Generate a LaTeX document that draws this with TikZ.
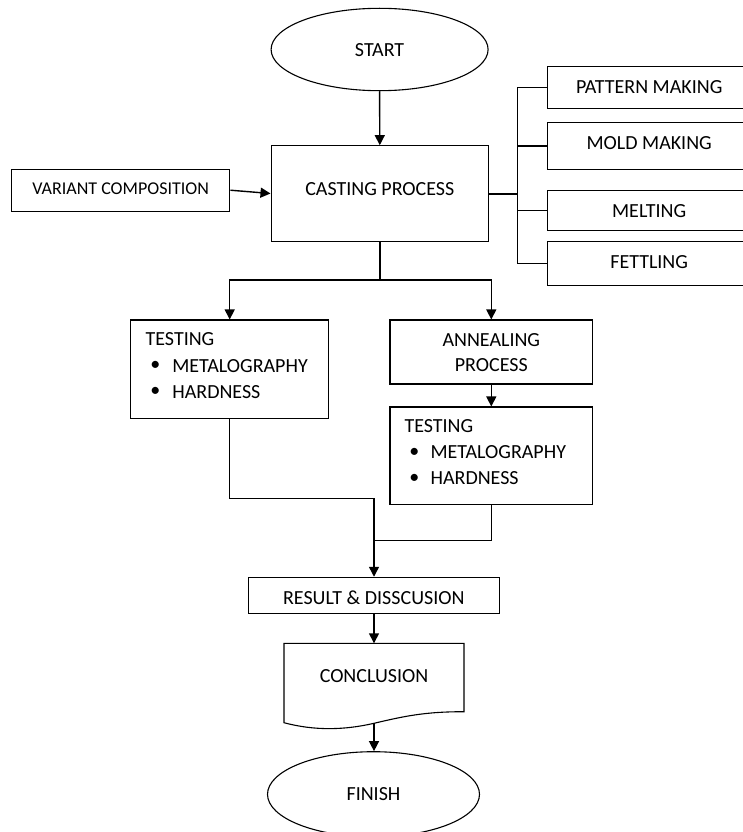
\documentclass[tikz,border=0pt]{standalone}
\usepackage{fontspec}
\setmainfont{Carlito}
\usetikzlibrary{shapes.geometric,arrows.meta}
\begin{document}
\begin{tikzpicture}[x=1pt,y=-1pt,
  box/.style={draw, line width=1.1pt, inner sep=0pt, rectangle},
  oval/.style={draw, line width=1.1pt, inner sep=0pt, ellipse},
  txt/.style={inner sep=0pt, font=\fontsize{20}{25}\selectfont},
  smalltxt/.style={inner sep=0pt, font=\fontsize{18}{22}\selectfont},
  conn/.style={line width=1.4pt},
  arr/.style={line width=1.4pt, -{Triangle[length=10pt,width=10pt]}}]
\clip (0,0) rectangle (743,832);
% nodes
\node[oval, minimum width=217pt, minimum height=82.4pt] (start) at (379.6,49.5) {};
\node[txt] (starttext) at (379.6,50) {START};
\node[box, minimum width=217.5pt, minimum height=95.6pt] (casting) at (379.8,193.5) {};
\node[txt] (castingtext) at (379.8,189) {CASTING PROCESS};
\node[box, minimum width=218pt, minimum height=41.7pt] (variant) at (120.8,190.2) {};
\node[smalltxt] (varianttext) at (120.6,189) {VARIANT COMPOSITION};
\node[box, minimum width=203.7pt, minimum height=41.6pt] (pattern) at (649.2,87.5) {};
\node[txt] (patterntext) at (649.2,87) {PATTERN MAKING};
\node[box, minimum width=203.7pt, minimum height=47pt] (mold) at (649.2,145.8) {};
\node[txt] (moldtext) at (649.2,143) {MOLD MAKING};
\node[box, minimum width=203.7pt, minimum height=40pt] (melting) at (649.2,210.7) {};
\node[txt] (meltingtext) at (649.2,211) {MELTING};
\node[box, minimum width=203.7pt, minimum height=43.6pt] (fettling) at (649.2,263.5) {};
\node[txt] (fettlingtext) at (649.2,262) {FETTLING};
% testing 1
\node[box, minimum width=198pt, minimum height=98.7pt] (testa) at (229.7,369.35) {};
\node[txt, anchor=west] (testatitle) at ([xshift=15.3pt,yshift=-19.5pt]testa.north west) {TESTING};
\node[txt] (testabulla) at ([xshift=25.3pt,yshift=-46.7pt]testa.north west) {\textbullet};
\node[txt, anchor=west] (testaitema) at ([xshift=42pt,yshift=-46.7pt]testa.north west) {METALOGRAPHY};
\node[txt] (testabullb) at ([xshift=25.3pt,yshift=-72.8pt]testa.north west) {\textbullet};
\node[txt, anchor=west] (testaitemb) at ([xshift=42pt,yshift=-72.8pt]testa.north west) {HARDNESS};
% annealing
\node[box, minimum width=202.7pt, minimum height=64pt] (anneal) at (491.3,352) {};
\node[txt, align=center] (annealtext) at (491.3,352.5) {ANNEALING\\PROCESS};
% testing 2
\node[box, minimum width=202.7pt, minimum height=97.3pt] (testb) at (491.3,455.65) {};
\node[txt, anchor=west] (testbtitle) at ([xshift=15pt,yshift=-20pt]testb.north west) {TESTING};
\node[txt] (testbbulla) at ([xshift=25pt,yshift=-46pt]testb.north west) {\textbullet};
\node[txt, anchor=west] (testbitema) at ([xshift=41pt,yshift=-46pt]testb.north west) {METALOGRAPHY};
\node[txt] (testbbullb) at ([xshift=25pt,yshift=-72pt]testb.north west) {\textbullet};
\node[txt, anchor=west] (testbitemb) at ([xshift=41pt,yshift=-72pt]testb.north west) {HARDNESS};
% result
\node[box, minimum width=251pt, minimum height=36pt] (result) at (373.8,595.3) {};
\node[txt] (resulttext) at (373.8,597.7) {RESULT \& DISSCUSION};
% conclusion (document shape)
\draw[line width=1.1pt] (284,722.7) -- (284,643.3) -- (464,643.3) -- (464,711.7)
  .. controls (425,711.7) and (405,716) .. (374,723.3)
  .. controls (345,730) and (315,731) .. (284,722.7) -- cycle;
\coordinate (concltop) at (374,643.3);
\coordinate (conclbot) at (374,723.3);
\node[txt] (concltext) at (374,675.7) {CONCLUSION};
% finish
\node[oval, minimum width=212pt, minimum height=85.2pt] (finish) at (373.5,794.3) {};
\node[txt] (finishtext) at (373.5,794) {FINISH};
% connectors
\draw[arr] (start.south) -- (casting.north);
\draw[arr] (variant.east) -- (casting.west);
\coordinate (bus) at (517.4,193.5);
\draw[line width=2pt] (casting.east) -- (bus);
\draw[conn] (pattern.west) -| (bus) |- (fettling.west);
\draw[conn] (mold.west) -- (mold.west -| bus);
\draw[conn] (melting.west) -- (melting.west -| bus);
\coordinate (split) at (379.8,280);
\draw[conn] (casting.south) -- (split);
\draw[arr] (split) -| (testa.north);
\draw[arr] (split) -| (anneal.north);
\draw[arr] (anneal.south) -- (testb.north);
\coordinate (mergea) at (374,498.3);
\coordinate (merge) at (374,540.7);
\draw[conn] (testa.south) |- (mergea) -- (merge);
\draw[conn] (testb.south) |- (merge);
\draw[arr] (merge) -- (result.north -| merge);
\draw[arr] (result.south -| concltop) -- (concltop);
\draw[arr] (conclbot) -- (finish.north -| conclbot);
\end{tikzpicture}
\end{document}
